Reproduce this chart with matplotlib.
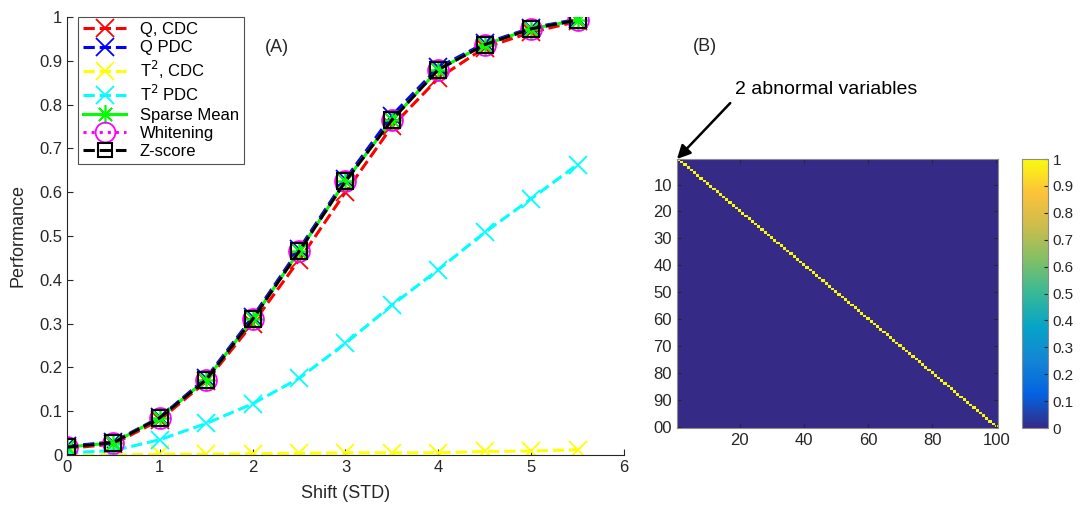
import numpy as np
import matplotlib
matplotlib.use("Agg")
import matplotlib.pyplot as plt
from matplotlib.colors import LinearSegmentedColormap

plt.rcParams["font.family"] = ["Liberation Sans", "DejaVu Sans"]
plt.rcParams["font.size"] = 12

# ── Data ──────────────────────────────────────────────────────────────────────
shift = [0, 0.5, 1, 1.5, 2, 2.5, 3, 3.5, 4, 4.5, 5, 5.5]
q_cdc = [0.015, 0.025, 0.080, 0.168, 0.300, 0.445, 0.600, 0.750, 0.860, 0.930, 0.965, 0.990]
q_pdc = [0.020, 0.030, 0.086, 0.176, 0.315, 0.470, 0.630, 0.775, 0.885, 0.940, 0.975, 0.995]
t2_cdc = [0.000, 0.000, 0.002, 0.002, 0.003, 0.004, 0.005, 0.005, 0.005, 0.008, 0.009, 0.012]
t2_pdc = [0.005, 0.010, 0.035, 0.072, 0.117, 0.175, 0.255, 0.342, 0.423, 0.508, 0.585, 0.663]
sparse_mean = [0.018, 0.028, 0.085, 0.172, 0.310, 0.465, 0.625, 0.765, 0.880, 0.937, 0.973, 0.993]
whitening = [0.018, 0.028, 0.085, 0.172, 0.310, 0.465, 0.625, 0.765, 0.880, 0.937, 0.973, 0.993]
zscore = [0.018, 0.028, 0.085, 0.172, 0.310, 0.465, 0.625, 0.765, 0.880, 0.937, 0.973, 0.993]

n_vars = 100
cov_img = np.eye(n_vars)

x_ticks_b = [20, 40, 60, 80, 100]
y_ticks_b = [10, 20, 30, 40, 50, 60, 70, 80, 90, 100]
y_ticklabels_b = ["10", "20", "30", "40", "50", "60", "70", "80", "90", "00"]

# approximate MATLAB parula
parula = LinearSegmentedColormap.from_list("parula", [
    (0.000, (0.2081, 0.1663, 0.5292)),
    (0.125, (0.0117, 0.3875, 0.8820)),
    (0.250, (0.0780, 0.5200, 0.8330)),
    (0.375, (0.0230, 0.6420, 0.7860)),
    (0.500, (0.2160, 0.7240, 0.5920)),
    (0.625, (0.5040, 0.7500, 0.4000)),
    (0.750, (0.8000, 0.7400, 0.3000)),
    (0.875, (0.9900, 0.7600, 0.2300)),
    (1.000, (0.9763, 0.9831, 0.0538)),
])

fig = plt.figure(figsize=(10.84, 5.09), dpi=100)
ink = "#262626"

# ── Panel A ───────────────────────────────────────────────────────────────────
ax = fig.add_axes([0.0618, 0.1061, 0.5138, 0.8605])
lw = 2.2
ax.plot(shift, q_cdc, "--", color="red", lw=lw, marker="x", ms=13, mew=1.3, label="Q, CDC")
ax.plot(shift, q_pdc, "--", color="blue", lw=lw, marker="x", ms=13, mew=1.3, label="Q PDC")
ax.plot(shift, t2_cdc, "--", color="yellow", lw=lw, marker="x", ms=13, mew=1.3, label="T$^2$, CDC")
ax.plot(shift, t2_pdc, "--", color="cyan", lw=lw, marker="x", ms=13, mew=1.3, label="T$^2$ PDC")
ax.plot(shift, sparse_mean, "-", color="#00ff00", lw=lw, marker=(8, 2, 0), ms=14, mew=1.2,
        label="Sparse Mean")
ax.plot(shift, whitening, ":", color="magenta", lw=lw, marker="o", ms=15, mew=1.3,
        mfc="none", label="Whitening")
ax.plot(shift, zscore, "--", color="black", lw=lw, marker="s", ms=11, mew=1.5,
        mfc="none", label="Z-score")

ax.set_xlim(0, 6); ax.set_ylim(0, 1)
ax.set_xticks(range(7))
ax.set_yticks(np.round(np.arange(0, 1.01, 0.1), 1))
ax.set_yticklabels(["0"] + [f"{v:.1f}" for v in np.arange(0.1, 0.95, 0.1)] + ["1"])
ax.tick_params(direction="in", length=4, color=ink, labelcolor=ink, labelsize=12)
ax.spines[["top", "right"]].set_visible(False)
for s in ("left", "bottom"):
    ax.spines[s].set_color(ink)
ax.set_xlabel("Shift (STD)", fontsize=13, color=ink, labelpad=7)
ax.set_ylabel("Performance", fontsize=13, color=ink, labelpad=9)
leg = ax.legend(loc="upper left", bbox_to_anchor=(0.02, 1.0), handlelength=2.6,
                fontsize=12, frameon=True, fancybox=False, edgecolor=ink,
                borderpad=0.3, labelspacing=0.2, handletextpad=0.8, borderaxespad=0,
                markerscale=0.95)
leg.get_frame().set_linewidth(0.8)
ax.text(2.13, 0.93, "(A)", fontsize=13, color=ink, ha="left", va="center")

# ── Panel B ───────────────────────────────────────────────────────────────────
axb = fig.add_axes([0.6245, 0.1591, 0.2961, 0.5285])
im = axb.imshow(cov_img, cmap=parula, vmin=0, vmax=1, aspect="auto",
                interpolation="nearest", extent=(0.5, n_vars + 0.5, n_vars + 0.5, 0.5))
axb.set_xticks(x_ticks_b)
axb.set_yticks(y_ticks_b)
axb.set_yticklabels(y_ticklabels_b)
axb.tick_params(direction="in", length=3, color=ink, labelcolor=ink,
                labelsize=12, top=True, right=True)
for s in axb.spines.values():
    s.set_color("#8c8c8c")
axb.annotate("", xy=(0.5, 0.5), xycoords="data", xytext=(17.1, -20.3),
             textcoords="data", annotation_clip=False,
             arrowprops=dict(arrowstyle="-|>", color="black", lw=1.8, mutation_scale=20,
                             shrinkA=0, shrinkB=0))
axb.text(18.7, -25.5, "2 abnormal variables", fontsize=14, color="black",
         ha="left", va="center", clip_on=False)
fig.text(0.639, 0.908, "(B)", fontsize=13, color=ink, ha="left", va="center")

cax = fig.add_axes([0.9428, 0.1591, 0.024, 0.5285])
cb = fig.colorbar(im, cax=cax)
cb.set_ticks(np.round(np.arange(0, 1.01, 0.1), 1))
cb.set_ticklabels(["0"] + [f"{v:.1f}" for v in np.arange(0.1, 0.95, 0.1)] + ["1"])
cax.tick_params(direction="in", length=3, color=ink, labelcolor=ink, labelsize=11)
cb.outline.set_edgecolor("#8c8c8c")

fig.savefig("out.png", dpi=100)
